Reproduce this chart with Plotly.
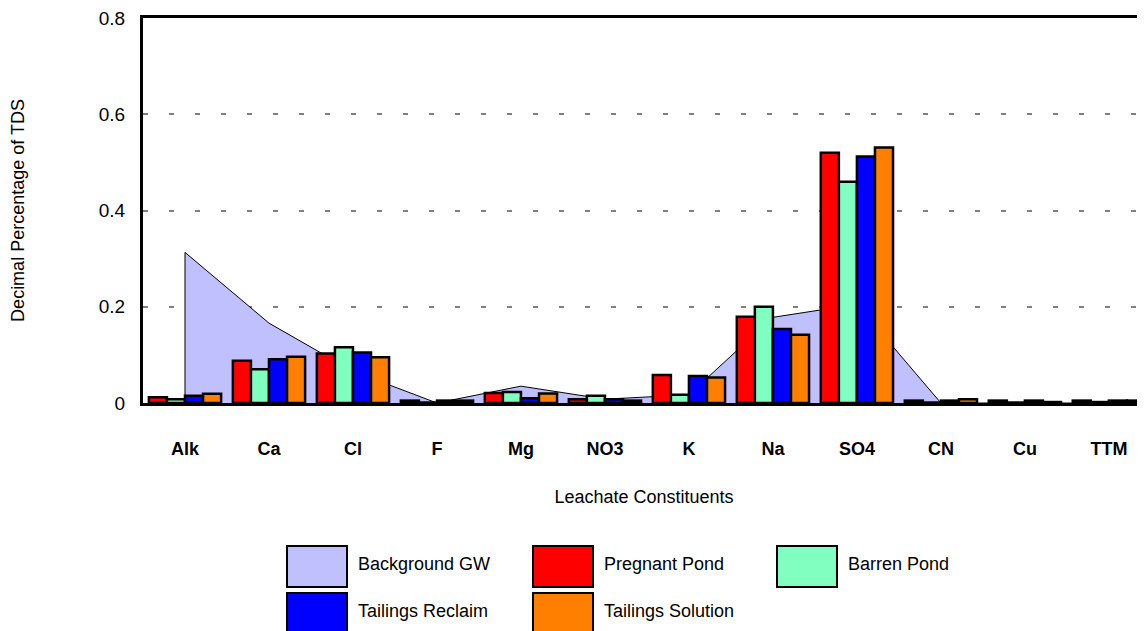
import plotly.graph_objects as go

categories = ["Alk", "Ca", "Cl", "F", "Mg", "NO3", "K", "Na", "SO4", "CN", "Cu", "TTM"]
background_gw = [0.313, 0.166, 0.066, 0.0, 0.035, 0.008, 0.017, 0.178, 0.205, 0.0, 0.0, 0.0]
pregnant_pond = [0.012, 0.088, 0.103, 0.005, 0.021, 0.008, 0.058, 0.179, 0.520, 0.005, 0.005, 0.005]
barren_pond = [0.008, 0.070, 0.116, 0.001, 0.023, 0.015, 0.017, 0.200, 0.460, 0.001, 0.001, 0.002]
tailings_reclaim = [0.015, 0.091, 0.105, 0.005, 0.010, 0.008, 0.056, 0.154, 0.512, 0.005, 0.005, 0.005]
tailings_solution = [0.019, 0.096, 0.095, 0.005, 0.020, 0.005, 0.053, 0.142, 0.531, 0.008, 0.002, 0.005]

bar_series = [
    ("Pregnant Pond", pregnant_pond, "#FF0000"),
    ("Barren Pond", barren_pond, "#80FFC0"),
    ("Tailings Reclaim", tailings_reclaim, "#0000FF"),
    ("Tailings Solution", tailings_solution, "#FF8000"),
]
bg_color = "#C0C0FF"

fig = go.Figure()
# Area on the base subplot (drawn behind)
fig.add_trace(go.Scatter(
    x=[categories[0]] + categories, y=[0] + background_gw,
    name="Background GW", mode="lines", fill="tozeroy",
    fillcolor=bg_color, line=dict(color="black", width=1),
    showlegend=False, xaxis="x", yaxis="y",
))
# Bars on an overlaying subplot (drawn on top)
for name, vals, col in bar_series:
    fig.add_trace(go.Bar(
        x=categories, y=vals, name=name,
        marker=dict(color=col, line=dict(color="black", width=2.5)),
        showlegend=False, xaxis="x2", yaxis="y2",
    ))

# Page has an 8px body margin: figure coordinates = screen coordinates - 8
OFF = 8
W, H = 1145 - OFF, 631 - OFF
L, T, B = 143 - OFF, 18 - OFF, 403 - OFF

# Manual legend with large swatches (screen coordinates of swatch top-left)
legend_items = [
    ("Background GW", bg_color, 287, 546),
    ("Pregnant Pond", "#FF0000", 533, 546),
    ("Barren Pond", "#80FFC0", 777, 546),
    ("Tailings Reclaim", "#0000FF", 287, 593),
    ("Tailings Solution", "#FF8000", 533, 593),
]
shapes = []
annotations = []
for label, col, sx, sy in legend_items:
    x0, y0 = sx - OFF, sy - OFF
    shapes.append(dict(type="rect", xref="paper", yref="paper",
                       x0=(x0 - L) / (W - L), x1=(x0 + 60 - L) / (W - L),
                       y0=(B - y0) / (B - T), y1=(B - (y0 + 41)) / (B - T),
                       fillcolor=col, line=dict(color="black", width=2)))
    annotations.append(dict(xref="paper", yref="paper",
                            x=(x0 + 69 - L) / (W - L), y=(B - (y0 + 18)) / (B - T),
                            text=label, showarrow=False, xanchor="left", yanchor="middle",
                            font=dict(size=18, color="black")))

xr = [-0.5, 11.43]
yr = [0, 0.8]
fig.update_layout(
    width=W, height=H,
    margin=dict(l=L, r=0, t=T, b=H - B),
    paper_bgcolor="white", plot_bgcolor="white",
    barmode="group", bargap=0.14, bargroupgap=0,
    font=dict(family="Liberation Sans, Arial, sans-serif", color="black"),
    shapes=shapes, annotations=annotations,
    showlegend=False,
    xaxis=dict(
        type="category", categoryorder="array", categoryarray=categories,
        range=xr, automargin=False,
        showline=True, linecolor="black", linewidth=3, mirror=True,
        ticks="", ticklabelstandoff=27,
        tickfont=dict(size=18, weight="bold"),
        showgrid=False,
        title=dict(text="Leachate Constituents", font=dict(size=18), standoff=33),
    ),
    yaxis=dict(
        range=yr, automargin=False,
        tickvals=[0, 0.2, 0.4, 0.6, 0.8], ticktext=["0", "0.2", "0.4", "0.6", "0.8"],
        showline=True, linecolor="black", linewidth=3, mirror=False,
        ticks="", ticklabelstandoff=11, ticklabeloverflow="allow",
        tickfont=dict(size=19),
        showgrid=True, gridcolor="#808080", gridwidth=1.5, griddash="5px,21px",
        zeroline=False,
        title=dict(text="Decimal Percentage of TDS", font=dict(size=18), standoff=70),
    ),
    xaxis2=dict(
        type="category", categoryorder="array", categoryarray=categories,
        range=xr, overlaying="x", visible=False, automargin=False,
    ),
    yaxis2=dict(range=yr, overlaying="y", visible=False, automargin=False),
)

fig.write_html("out.html")
